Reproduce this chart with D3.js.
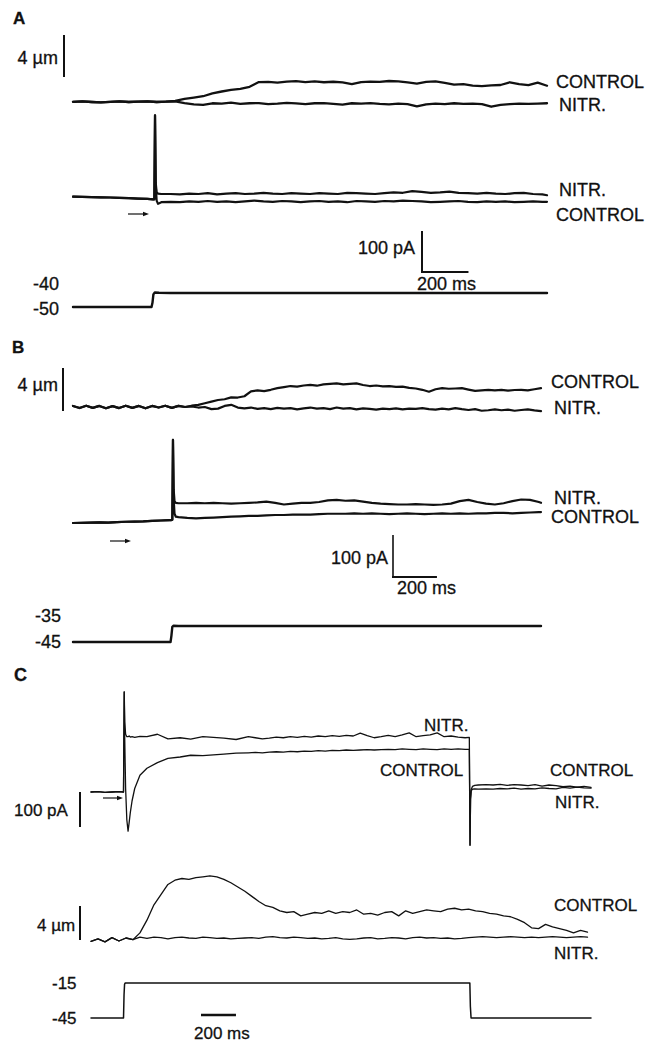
<!DOCTYPE html>
<html>
<head>
<meta charset="utf-8">
<script src="https://cdn.jsdelivr.net/npm/d3@7"></script>
<style>
  html, body { margin: 0; padding: 0; background: #fff; }
  svg { display: block; }
  text { font-family: "Liberation Sans", Arial, Helvetica, sans-serif; fill: #111; stroke: #111; stroke-width: 0.3px; }
</style>
</head>
<body>
<svg id="fig" width="648" height="1042"></svg>
<script>
// ---------------- recordings ----------------
const conditions = ["CONTROL", "NITR."];
const panelNames = ["A", "B", "C"];
const dispUnit = "4 \u00b5m";
const curUnit = "100 pA";
const timeUnit = "200 ms";

// Panel A: cell length (um), membrane current (pA), holding potential (mV)
const dtDispA = 40;   // ms between displacement samples
const dispCtrlA = [0.02,0.05,0.00,-0.04,0.02,0.05,0.00,0.03,0.06,0.00,
  0.03,0.10,0.30,0.42,0.55,0.82,1.00,1.15,1.25,1.45,
  1.90,1.92,1.85,1.95,1.98,1.90,1.96,1.88,1.93,1.86,
  1.70,1.90,1.95,1.92,2.00,1.96,1.86,1.76,1.92,1.97,
  1.82,1.65,1.70,1.56,1.52,1.58,1.62,1.88,1.70,1.60,
  1.84,1.55];
const dispNitrA = [0.02,0.05,0.00,-0.04,0.02,0.05,0.00,0.03,0.06,0.00,
  0.03,0.05,-0.10,-0.22,-0.28,-0.12,-0.15,-0.06,-0.18,-0.12,
  -0.10,-0.20,-0.15,-0.08,-0.14,-0.20,-0.12,-0.10,-0.18,-0.25,
  -0.12,-0.15,-0.10,-0.18,-0.22,-0.15,-0.20,-0.42,-0.22,-0.15,
  -0.20,-0.12,-0.18,-0.15,-0.20,-0.45,-0.28,-0.20,-0.15,-0.18,
  -0.15,-0.12];
const tCurA = [0,40,80,120,160,200,240,280,320,345,350,353,356,360,366,380,
  420,460,500,540,580,620,660,700,740,780,820,860,900,940,980,1020,1060,1100,1140,1180,
  1220,1260,1300,1340,1380,1420,1460,1500,1540,1580,1620,1660,1700,1740,1780,1820,1860,
  1900,1940,1980,2020,2040];
const curNitrA = [1.5,1,0.5,0,-0.5,-1.5,-2,-3,-4, -5,-5,200,35,12,9,8,
  8,7,9,8,10,7,9,10,8,9, 11,9,8,10,9,8,10,9,8,11, 10,9,8,10,12,11,15,13,11,12,
  14,11,10,9,11,9,8,10,11,8, 7,5];
const curCtrlA = [1.5,1,0.5,0,-0.5,-1.5,-2,-3,-4, -5,-5,200,30,-8,-16,-12,
  -11,-12,-10,-11,-9,-11,-10,-12,-10,-8, -10,-11,-9,-10,-12,-10,-9,-11,-10,-12,
  -9,-10,-11,-9,-10,-8,-9,-10,-12,-11, -10,-9,-11,-12,-10,-11,-10,-12,-11,-10, -11,-11];
const tVoltA = [0,338,342,346,352,370,420,2040];
const voltA = [-50,-50,-47,-41,-39.6,-39.8,-40,-40];
const voltTicksA = ["-40", "-50"];

// Panel B
const dtDispB = 30;
const dispCtrlB = [0.10,-0.10,0.12,-0.08,0.10,-0.12,0.08,-0.10,0.12,-0.08,
  0.10,-0.12,0.10,-0.05,0.12,-0.08,0.10,0.00,0.12,0.20,
  0.35,0.50,0.65,0.72,0.90,0.88,1.00,1.45,1.55,1.48,
  1.60,1.75,1.85,1.95,1.90,2.00,2.05,1.98,2.10,2.15,
  2.20,2.10,2.15,2.20,2.05,1.95,2.00,1.92,1.95,1.88,
  1.90,1.78,1.72,1.60,1.42,1.65,1.75,1.70,1.72,1.75,
  1.62,1.50,1.55,1.60,1.55,1.60,1.52,1.58,1.60,1.55,
  1.65,1.75];
const dispNitrB = [0.10,-0.10,0.12,-0.08,0.10,-0.12,0.08,-0.10,0.12,-0.08,
  0.10,-0.12,0.10,-0.05,0.12,-0.08,0.10,0.00,0.05,-0.05,
  0.00,-0.20,-0.15,0.10,0.20,-0.05,-0.12,-0.05,-0.18,-0.10,
  -0.20,-0.08,-0.15,-0.10,-0.22,-0.12,-0.05,-0.15,-0.10,-0.20,
  -0.05,-0.15,-0.10,-0.22,-0.12,-0.18,-0.25,-0.15,-0.20,-0.12,
  -0.22,-0.15,-0.18,-0.10,-0.20,-0.25,-0.15,-0.22,-0.10,-0.20,
  -0.28,-0.20,-0.35,-0.30,-0.22,-0.30,-0.25,-0.35,-0.28,-0.22,
  -0.32,-0.38];
const tCurB = [0,40,80,120,160,200,240,280,320,360,400,440, 448,452,455,458,462,468,480,
  520,560,600,640,680,720,760,800,840,880,920,960,1000,1040,1080,1120,1160,1200,1240,1280,
  1320,1360,1400,1440,1480,1520,1560,1600,1640,1680,1720,1760,1800,1840,1880,1920,1960,
  2000,2040,2080,2120,2130];
const curNitrB = [0,0.5,1,1.5,1,2,3,3.5,4,5,6,7, 7,8,198,80,52,48,47,
  47,48,47,48,47,46,47,48,49,51, 48,44,46,48,48,50,54,55,53,54,
  51,48,46,45,44,44,45,44,43,44, 46,52,55,50,46,44,47,52,56,55, 50,48];
const curCtrlB = [0,0.5,1,1.5,1,2,3,3.5,4,5,6,7, 7,8,198,60,22,15,14,
  12,11,12,13,14,15,16,17,17,18, 19,19,20,20,20,21,22,22,22,23,
  22,23,22,21,22,23,22,21,22,23, 22,23,22,23,23,24,24,23,24,25, 26,26];
const tVoltB = [0,444,448,452,458,480,2130];
const voltB = [-45,-45,-41,-35.6,-34.8,-35,-35];
const voltTicksB = ["-35", "-45"];

// Panel C
const tCurC = [0,40,80,120,160,186,
  190,193,198,205,212,218,225,235,250,280,320,380,440,510,570,640,700,760,830,
  900,940,980,1020,1060,1100,1140,1180,1220,1260,1300,1340,1380,1420,1460,1500,
  1540,1580,1620,1660,1700,1740,1780,1820,1860,1900,1940,1980,2020,2060,2100,2140,
  2164,2168,2171,2175,2182,2195,2215,
  2260,2300,2340,2380,2420,2460,2500,2540,2580,2620,2660,2700,2740,2780,2820,2860];
const curNitrC = [0,1,-1,0,1,0,
  286,200,165,158,158,160,157,158,156,159,158,165,152,155,151,158,156,154,150,
  158,155,152,154,157,155,158,156,159,157,160,158,161,159,162,160,
  168,161,155,158,162,158,163,169,158,161,163,169,158,160,157,155,
  156,-152,-20,4,8,9,8,
  9,8,10,9,11,8,10,9,12,10,9,13,11,14,12,11];
const curCtrlC = [0,1,-1,0,1,0,
  286,150,10,-80,-112,-88,-58,-25,10,48,68,84,96,100,105,104,106,108,111,
  112,113,112,114,115,114,116,115,117,116,118,117,119,118,120,119,
  120,121,120,121,122,121,123,122,121,123,122,121,123,122,123,122,
  122,-152,-20,8,16,19,20,
  21,20,22,19,21,20,18,21,17,20,18,15,17,14,16,13];
const dtDispC = 40;
const dispCtrlC = [-0.40,-0.10,-0.45,0.05,-0.35,0.00,-0.20,0.60,2.10,3.90,
  5.10,6.30,6.80,7.00,6.90,7.10,7.20,7.30,7.20,6.90,
  6.50,6.00,5.50,4.90,4.30,3.80,3.60,3.20,3.00,3.10,
  2.60,2.80,3.00,2.90,3.20,2.90,3.10,3.00,3.30,2.80,
  2.90,2.70,3.00,3.10,2.60,3.20,2.90,3.10,3.30,3.20,
  3.10,3.40,3.50,3.30,3.40,3.20,3.10,2.90,2.80,2.60,
  2.50,2.20,1.80,1.20,1.10,1.60,1.30,1.10,0.90,0.60,
  0.90,0.70];
const dispNitrC = [-0.40,-0.10,-0.45,0.05,-0.35,0.00,-0.20,
  0.10,-0.05,0.10,0.05,-0.10,0.05,0.10,0.00,-0.05,0.10,
  0.05,-0.05,0.00,-0.10,-0.05,0.00,0.05,-0.05,0.10,0.15,
  0.05,0.00,0.10,0.05,-0.05,0.00,-0.10,-0.05,0.05,-0.10,
  -0.15,-0.10,0.00,0.05,-0.10,-0.05,0.05,0.00,-0.10,0.05,
  0.10,0.00,0.05,-0.05,0.00,-0.10,-0.05,0.05,0.10,0.15,
  0.10,0.05,0.10,0.15,0.10,0.05,0.10,0.05,0.10,0.15,
  0.10,0.05,0.10,0.15,0.10];
const tVoltC = [0,186,189,192,196,2164,2167,2170,2174,2860];
const voltC = [-45,-45,-25,-16,-15,-15,-15,-35,-45,-45];
const voltTicksC = ["-15", "-45"];

// ---------------- drawing helpers ----------------
const svg = d3.select("#fig");
const INK = "#111";

function trace(times, values, x, y, width) {
  const pts = times.map((t, i) => [t, values[i]]);
  svg.append("path")
    .datum(pts)
    .attr("d", d3.line().x(d => x(d[0])).y(d => y(d[1])).curve(d3.curveLinear))
    .attr("fill", "none")
    .attr("stroke", INK)
    .attr("stroke-width", width)
    .attr("stroke-linejoin", "round")
    .attr("stroke-linecap", "round");
}
function sampled(dt, values) { return values.map((_, i) => i * dt); }

function label(txt, x, yc, size, anchor, weight) {
  svg.append("text")
    .attr("x", x)
    .attr("y", yc + size * 0.355)
    .attr("font-size", size)
    .attr("font-weight", weight || "normal")
    .attr("text-anchor", anchor || "start")
    .text(txt);
}
function seg(x1, y1, x2, y2, w) {
  svg.append("line").attr("x1", x1).attr("y1", y1).attr("x2", x2).attr("y2", y2)
    .attr("stroke", INK).attr("stroke-width", w);
}
function arrow(x1, x2, y) {
  seg(x1, y, x2 - 3, y, 1.2);
  svg.append("path")
    .attr("d", `M${x2},${y}L${x2 - 6},${y - 2.2}L${x2 - 6},${y + 2.2}Z`)
    .attr("fill", INK);
}

// ---------------- Panel A ----------------
{
  const x = d3.scaleLinear().domain([0, 2040]).range([73, 547]);
  const yD = d3.scaleLinear().domain([0, 4]).range([102, 60]);
  const yI = d3.scaleLinear().domain([0, 100]).range([197.3, 156.3]);
  const yV = d3.scaleLinear().domain([-50, -40]).range([307, 293]);

  label(panelNames[0], 13, 18, 17, "start", "bold");
  trace(sampled(dtDispA, dispCtrlA), dispCtrlA, x, yD, 2.3);
  trace(sampled(dtDispA, dispNitrA), dispNitrA, x, yD, 2.3);
  trace(tCurA, curNitrA, x, yI, 2.2);
  trace(tCurA, curCtrlA, x, yI, 2.2);
  trace(tVoltA, voltA, x, yV, 2.4);

  // scale bars
  const dBar = yD(0) - yD(4);
  seg(64, 35, 64, 35 + dBar, 2);
  label(dispUnit, 58, 58, 18, "end");
  const iBar = yI(0) - yI(100);
  const tBar = x(200) - x(0);
  seg(422, 272 - iBar, 422, 272, 2);
  seg(421, 272, 422 + tBar, 272, 2);
  label(curUnit, 415, 248, 18, "end");
  label(timeUnit, 417, 284, 18);

  label(conditions[0], 556, 82, 18);
  label(conditions[1], 559, 105, 18);
  label(conditions[1], 559, 190, 18);
  label(conditions[0], 556, 215, 18);
  arrow(128, 149, 214);
  label(voltTicksA[0], 33, 284, 18);
  label(voltTicksA[1], 33, 309, 18);
}

// ---------------- Panel B ----------------
{
  const x = d3.scaleLinear().domain([0, 2130]).range([73, 541]);
  const yD = d3.scaleLinear().domain([0, 4]).range([407, 364]);
  const yI = d3.scaleLinear().domain([0, 100]).range([523, 481]);
  const yV = d3.scaleLinear().domain([-45, -35]).range([642, 626]);

  label(panelNames[1], 12, 347, 17, "start", "bold");
  trace(sampled(dtDispB, dispCtrlB), dispCtrlB, x, yD, 2.2);
  trace(sampled(dtDispB, dispNitrB), dispNitrB, x, yD, 2.2);
  trace(tCurB, curNitrB, x, yI, 2.2);
  trace(tCurB, curCtrlB, x, yI, 2.2);
  trace(tVoltB, voltB, x, yV, 2.4);

  const dBar = yD(0) - yD(4);
  seg(63, 368, 63, 368 + dBar, 2);
  label(dispUnit, 58, 385, 18, "end");
  const iBar = yI(0) - yI(100);
  const tBar = x(200) - x(0);
  seg(393, 577 - iBar, 393, 577, 1.6);
  seg(392, 577, 393 + tBar, 577, 2);
  label(curUnit, 388, 558, 18, "end");
  label(timeUnit, 397, 588, 18);

  label(conditions[0], 551, 382, 18);
  label(conditions[1], 554, 408, 18);
  label(conditions[1], 554, 498, 18);
  label(conditions[0], 551, 517, 18);
  arrow(110, 131, 541);
  label(voltTicksB[0], 35, 616, 18);
  label(voltTicksB[1], 35, 642, 18);
}

// ---------------- Panel C ----------------
{
  const x = d3.scaleLinear().domain([0, 2860]).range([91, 591]);
  const yI = d3.scaleLinear().domain([0, 100]).range([792, 757]);
  const yD = d3.scaleLinear().domain([0, 4]).range([938, 904]);
  const yV = d3.scaleLinear().domain([-45, -15]).range([1018, 983]);

  label(panelNames[2], 14, 675, 18, "start", "bold");
  trace(tCurC, curNitrC, x, yI, 1.3);
  trace(tCurC, curCtrlC, x, yI, 1.3);
  trace(sampled(dtDispC, dispCtrlC), dispCtrlC, x, yD, 1.3);
  trace(sampled(dtDispC, dispNitrC), dispNitrC, x, yD, 1.3);
  trace(tVoltC, voltC, x, yV, 1.5);

  const iBar = yI(0) - yI(100);
  seg(80, 792, 80, 792 + iBar, 2);
  label(curUnit, 14, 810, 17);
  const dBar = yD(0) - yD(4);
  seg(80, 906, 80, 906 + dBar, 2);
  label(dispUnit, 37, 925, 17);
  const tBar = x(200) - x(0);
  seg(201, 1015, 201 + tBar, 1015, 2.5);
  label(timeUnit, 194, 1033, 17);

  label(conditions[1], 424, 725, 17);
  label(conditions[0], 380, 770, 17);
  label(conditions[0], 550, 770, 17);
  label(conditions[1], 555, 802, 17);
  label(conditions[0], 554, 905, 17);
  label(conditions[1], 554, 953, 17);
  arrow(103, 123, 798);
  label(voltTicksC[0], 52, 983, 17);
  label(voltTicksC[1], 52, 1018, 17);
}
</script>
</body>
</html>
